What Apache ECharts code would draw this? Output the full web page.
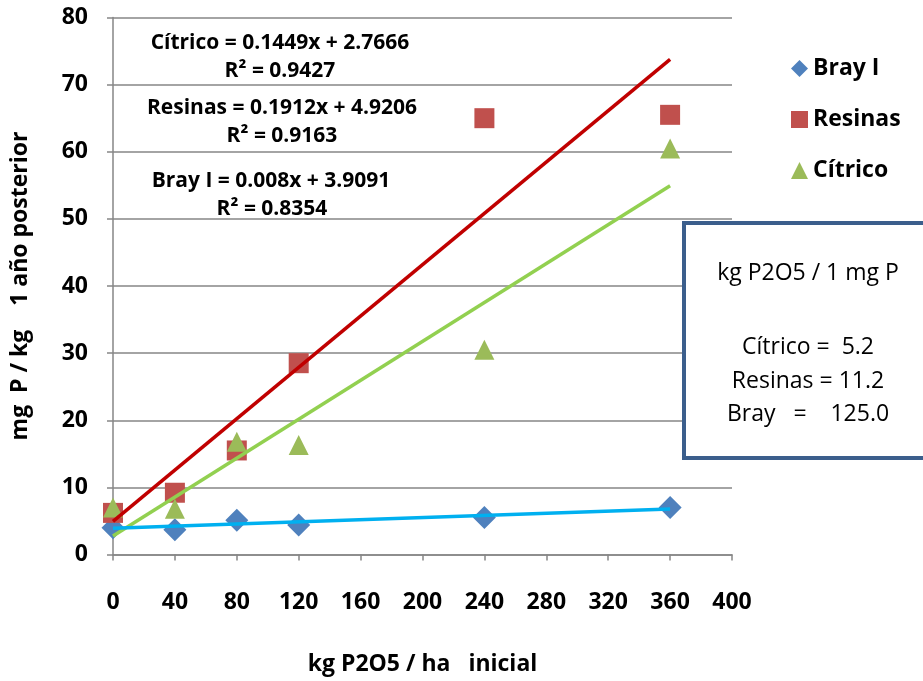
<!DOCTYPE html>
<html>
<head>
<meta charset="utf-8">
<script src="https://cdn.jsdelivr.net/npm/echarts@6/dist/echarts.min.js"></script>
<style>html,body{margin:0;padding:0;background:#fff}#c{width:923px;height:681px}</style>
</head>
<body>
<div id="c"></div>
<script>
// Dose of P2O5 applied (kg/ha)
const doses = [0, 40, 80, 120, 240, 360];
// Soil P one year later (mg P / kg) by extraction method
const brayI   = [4.0, 3.7, 5.1, 4.4, 5.5, 7.0];
const resinas = [6.2, 9.2, 15.5, 28.5, 65.0, 65.5];
const citrico = [7.0, 6.8, 16.8, 16.3, 30.5, 60.5];
// Linear fits: slope, intercept, R²
const fitCitrico = [0.1449, 2.7666, 0.9427];
const fitResinas = [0.1912, 4.9206, 0.9163];
const fitBray    = [0.008, 3.9091, 0.8354];
// Fit lines span the dose range
const fitRange = [0, 360];
// kg P2O5 needed per 1 mg P
const ratioLabels = ['Cítrico =  5.2', 'Resinas = 11.2', 'Bray   =    125.0'];
const xTicks = [0, 400, 40];
const yTicks = [0, 80, 10];

const FONT = '"Open Sans", Lato, sans-serif';
const pts = ys => doses.map((d, i) => [d, ys[i]]);
const fitLine = f => fitRange.map(x => [x, f[0] * x + f[1]]);
const fmtEq = (name, f) => name + ' = ' + f[0] + 'x + ' + f[1];
const fmtR2 = f => 'R² = ' + f[2].toFixed(4);

const chart = echarts.init(document.getElementById('c'), null, {renderer: 'canvas'});
const axisGray = '#868686';

const eqText = (txt, x, y) => ({
  type: 'text', x: x, y: y, z: 20,
  style: {text: txt, font: 'bold 21px ' + FONT, fill: '#000', textAlign: 'center', textVerticalAlign: 'middle'}
});
const boxText = (txt, y) => ({
  type: 'text', x: 808, y: y, z: 31,
  style: {text: txt, font: '23px ' + FONT, fill: '#000', textAlign: 'center', textVerticalAlign: 'middle'}
});

chart.setOption({
  animation: false,
  backgroundColor: '#fff',
  grid: {left: 113, right: 191, top: 17.5, bottom: 126.5, outerBoundsMode: 'none', containLabel: false},
  xAxis: {
    type: 'value', min: xTicks[0], max: xTicks[1], interval: xTicks[2],
    name: 'kg P2O5 / ha   inicial', nameLocation: 'middle', nameGap: 98,
    nameTextStyle: {fontFamily: FONT, fontWeight: 'bold', fontSize: 23, color: '#000'},
    axisLine: {show: true, onZero: false, lineStyle: {color: axisGray, width: 1.5}},
    axisTick: {show: true, inside: false, length: 6, lineStyle: {color: axisGray, width: 1.5}},
    axisLabel: {margin: 36, fontFamily: FONT, fontWeight: 'bold', fontSize: 23, color: '#000'},
    splitLine: {show: false}
  },
  yAxis: {
    type: 'value', min: yTicks[0], max: yTicks[1], interval: yTicks[2],
    name: 'mg  P / kg    1 año posterior', nameLocation: 'middle', nameGap: 81,
    nameTextStyle: {fontFamily: FONT, fontWeight: 'bold', fontSize: 23, color: '#000'},
    axisLine: {show: true, onZero: false, lineStyle: {color: axisGray, width: 1.5}},
    axisTick: {show: true, inside: false, length: 6, lineStyle: {color: axisGray, width: 1.5}},
    axisLabel: {margin: 25, fontFamily: FONT, fontWeight: 'bold', fontSize: 23, color: '#000'},
    splitLine: {show: true, lineStyle: {color: axisGray, width: 1.5}}
  },
  legend: {
    orient: 'vertical', left: 786, top: 51, itemGap: 26,
    itemWidth: 17, itemHeight: 17,
    textStyle: {fontFamily: FONT, fontWeight: 'bold', fontSize: 23, lineHeight: 25, color: '#000'},
    data: [
      {name: 'Bray I', icon: 'diamond'},
      {name: 'Resinas', icon: 'rect'},
      {name: 'Cítrico', icon: 'triangle'}
    ]
  },
  series: [
    {name: 'Bray I', type: 'scatter', data: pts(brayI), symbol: 'diamond', symbolSize: 23,
     itemStyle: {color: '#4F81BD', opacity: 1}, z: 3},
    {name: 'Resinas', type: 'scatter', data: pts(resinas), symbol: 'rect', symbolSize: 20,
     itemStyle: {color: '#C0504D', opacity: 1}, z: 3},
    {name: 'Cítrico', type: 'scatter', data: pts(citrico), symbol: 'triangle', symbolSize: 20,
     itemStyle: {color: '#9BBB59', opacity: 1}, z: 3},
    {name: 'fit Resinas', type: 'line', data: fitLine(fitResinas), symbol: 'none',
     lineStyle: {color: '#C00000', width: 3.5}, z: 4, silent: true},
    {name: 'fit Cítrico', type: 'line', data: fitLine(fitCitrico), symbol: 'none',
     lineStyle: {color: '#92D050', width: 3.5}, z: 4, silent: true},
    {name: 'fit Bray I', type: 'line', data: fitLine(fitBray), symbol: 'none',
     lineStyle: {color: '#00B0F0', width: 3.5}, z: 4, silent: true}
  ],
  graphic: [
    eqText(fmtEq('Cítrico', fitCitrico), 280, 43),
    eqText(fmtR2(fitCitrico), 280, 71),
    eqText(fmtEq('Resinas', fitResinas), 282, 108),
    eqText(fmtR2(fitResinas), 282, 136),
    eqText(fmtEq('Bray I', fitBray), 271, 181),
    eqText(fmtR2(fitBray), 272, 209),
    {type: 'rect', z: 30,
     shape: {x: 684, y: 223, width: 260, height: 235},
     style: {fill: '#fff', stroke: '#3B5E8C', lineWidth: 4}},
    boxText('kg P2O5 / 1 mg P', 273),
    boxText(ratioLabels[0], 347),
    boxText(ratioLabels[1], 381),
    boxText(ratioLabels[2], 414)
  ]
});
</script>
</body>
</html>
